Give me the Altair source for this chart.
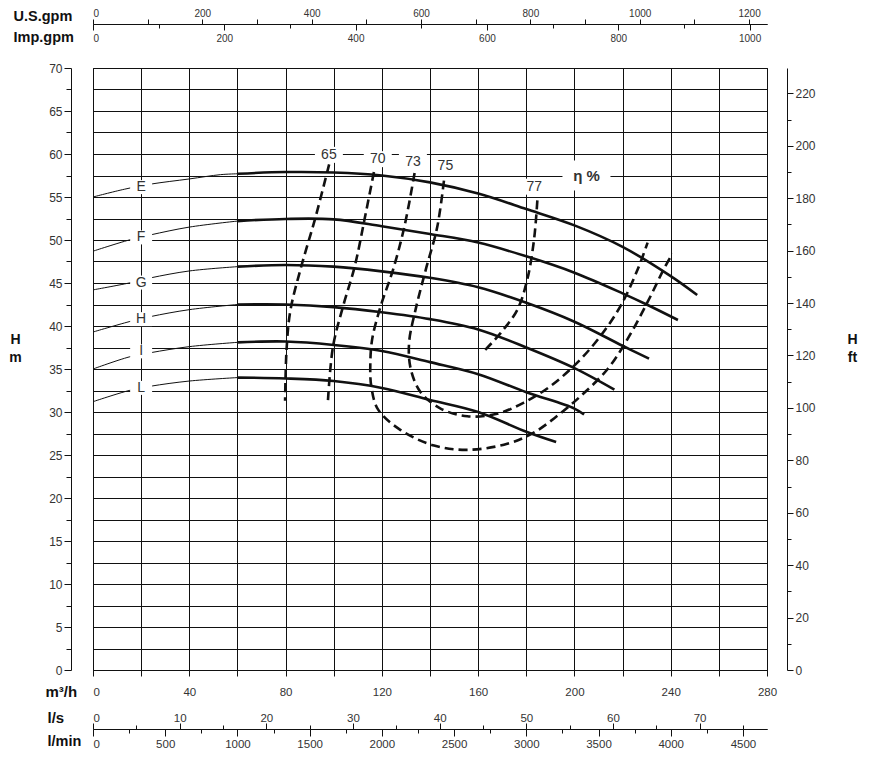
import altair as alt
import pandas as pd

# ---------------- unit conversions ----------------
Q_MAX = 280.0          # m3/h at right edge of plot
H_MAX = 70.0           # m at top of plot
USGPM_PER_M3H = 4.402868
IMPGPM_PER_M3H = 3.666154
LS_PER_M3H = 1 / 3.6
LMIN_PER_M3H = 1000 / 60
FT_PER_M = 3.28084

# ---------------- pump head curves (Q m3/h, H m) ----------------
curve_names = ["E", "F", "G", "H", "I", "L"]
E_q = [0, 13, 24, 40, 53, 60, 80, 100, 120, 140, 160, 180, 200, 220, 240, 251]
E_h = [55.0, 55.9, 56.5, 57.1, 57.6, 57.7, 57.9, 57.85, 57.5, 56.7, 55.4, 53.6, 51.7, 49.2, 45.8, 43.6]
F_q = [0, 15, 24, 40, 60, 80, 100, 120, 140, 160, 180, 200, 220, 230, 243]
F_h = [48.7, 50.0, 50.6, 51.5, 52.2, 52.45, 52.4, 51.6, 50.7, 49.7, 48.1, 46.2, 43.8, 42.5, 40.7]
G_q = [0, 15, 24, 40, 60, 80, 100, 120, 140, 160, 180, 200, 220, 231]
G_h = [44.2, 45.0, 45.6, 46.4, 46.9, 47.1, 46.9, 46.35, 45.6, 44.5, 42.7, 40.5, 37.7, 36.2]
H_q = [0, 15, 24, 40, 60, 80, 100, 120, 140, 160, 180, 200, 216.6]
H_h = [39.3, 40.5, 41.1, 41.9, 42.5, 42.5, 42.2, 41.6, 40.8, 39.6, 37.5, 35.1, 32.6]
I_q = [0, 15, 24, 40, 60, 80, 100, 120, 140, 160, 180, 200, 204]
I_h = [35.0, 36.4, 36.9, 37.6, 38.1, 38.2, 37.8, 37.1, 35.8, 34.4, 32.3, 30.4, 29.7]
L_q = [0, 15, 24, 40, 60, 80, 100, 120, 140, 160, 180, 192.4]
L_h = [31.2, 32.5, 33.0, 33.6, 34.0, 33.9, 33.6, 32.8, 31.4, 30.0, 27.7, 26.5]
THIN_LIMIT = 60  # curves drawn thin below this flow

# curve labels
label_q = [20, 20, 20, 20, 20, 20]
label_h = [56.15, 50.3, 45.05, 40.8, 37.05, 32.8]

# ---------------- efficiency iso-lines ----------------
eff_names = ["65", "70", "73", "75", "77"]
e65_q = [98.1, 92.2, 86.7, 82.0, 80.4, 79.8]
e65_h = [58.8, 52.4, 47.1, 41.8, 37.2, 31.3]
e70_q = [116.7, 112.8, 108.7, 103.9, 99.7, 97.6]
e70_h = [57.9, 52.4, 46.9, 42.3, 37.6, 31.3]
e73_q = [133.6, 129.4, 124.6, 119.5, 116.0, 115.2, 115.6, 118.4, 127.8, 141.7, 155.5, 172.1,
         183.1, 193.1, 202.8, 213.8, 222.1, 230.4, 237.3, 240.7]
e73_h = [57.8, 51.6, 46.5, 42.3, 38.5, 35.5, 33.0, 30.3, 27.9, 26.1, 25.6, 26.3,
         27.6, 29.6, 31.9, 35.0, 38.5, 42.8, 46.7, 48.4]
e75_q = [145.8, 143.0, 138.2, 134.0, 131.3, 132.0, 136.1, 144.4, 155.5, 167.9, 179.0, 190.0,
         201.4, 211.0, 219.3, 226.3, 230.4]
e75_h = [56.9, 51.5, 46.5, 41.9, 38.0, 35.0, 32.3, 30.4, 29.5, 29.8, 31.1, 33.0,
         35.8, 38.9, 42.4, 46.6, 49.7]
e77_q = [184.6, 183.2, 180.4, 176.3, 169.4, 162.5]
e77_h = [54.6, 50.0, 45.4, 41.9, 39.2, 37.1]

eff_label_q = [98.0, 118.3, 132.9, 146.4, 183.3]
eff_label_h = [59.9, 59.4, 59.1, 58.6, 56.2]
eta_label = ["η %"]
eta_q = [205.0]
eta_h = [57.5]

# ---------------- axis tick values ----------------
m3h_ticks = list(range(0, 281, 20))
m_ticks = [i * 2.5 for i in range(0, 29)]
ft_ticks = list(range(0, 221, 10))
us_ticks = list(range(0, 1201, 100))
imp_ticks = list(range(0, 1001, 100))
ls_ticks = list(range(0, 76, 5))
lmin_ticks = list(range(0, 4501, 250))

# ---------------- tables ----------------
curves = {"E": (E_q, E_h), "F": (F_q, F_h), "G": (G_q, G_h),
          "H": (H_q, H_h), "I": (I_q, I_h), "L": (L_q, L_h)}
pump = pd.DataFrame([{"curve": n, "Q": q, "H": h, "i": i}
                     for n, (qs, hs) in curves.items()
                     for i, (q, h) in enumerate(zip(qs, hs))])
effs = {"65": (e65_q, e65_h), "70": (e70_q, e70_h), "73": (e73_q, e73_h),
        "75": (e75_q, e75_h), "77": (e77_q, e77_h)}
eff = pd.DataFrame([{"eff": n, "Q": q, "H": h, "i": i}
                    for n, (qs, hs) in effs.items()
                    for i, (q, h) in enumerate(zip(qs, hs))])
curve_labels = pd.DataFrame({"t": curve_names, "Q": label_q, "H": label_h})
eff_labels = pd.DataFrame({"t": eff_names, "Q": eff_label_q, "H": eff_label_h})
eta = pd.DataFrame({"t": eta_label, "Q": eta_q, "H": eta_h})

# ---------------- styling ----------------
FONT = "Liberation Sans, Arial, sans-serif"
INK = "#111111"
LBL = "#333333"


def xs():
    return alt.Scale(domain=[0, Q_MAX], nice=False, zero=False)


def ys():
    return alt.Scale(domain=[0, H_MAX], nice=False, zero=False)


def zero_left():
    return {"condition": {"test": "datum.value === 0", "value": "left"}, "value": "center"}


ax_m3h = alt.Axis(orient="bottom", offset=0, values=m3h_ticks, format="d",
                  labelExpr="datum.value % 40 === 0 ? datum.label : ''",
                  labelAlign=zero_left(), labelFlush=False, labelFontSize=11.5,
                  tickSize=6, labelPadding=10, grid=True, gridColor=INK, gridWidth=1,
                  title="m³/h", titleX=-48, titleY=21, titleAlign="left",
                  titleBaseline="middle", titleAngle=0)
ax_m = alt.Axis(orient="left", offset=22, values=m_ticks, format="d",
                labelExpr="datum.value % 5 === 0 ? datum.label : ''",
                tickSize={"condition": {"test": "datum.value % 5 === 0", "value": 7}, "value": 5},
                labelPadding=2, labelFontSize=12, grid=True, gridColor=INK, gridWidth=1,
                title=["H", "m"], titleX=-56, titleY=271, titleAngle=0,
                titleAlign="center", titleBaseline="middle", titleFontSize=14, titleLineHeight=18)

thin = alt.Chart(pump).transform_filter(f"datum.Q <= {THIN_LIMIT}").mark_line(
    color=INK, strokeWidth=1, interpolate="catmull-rom").encode(
    x=alt.X("Q:Q", scale=xs(), axis=ax_m3h),
    y=alt.Y("H:Q", scale=ys(), axis=ax_m),
    detail="curve:N", order="i:Q")

thick = alt.Chart(pump).transform_filter(f"datum.Q >= {THIN_LIMIT}").mark_line(
    color=INK, strokeWidth=2.6, interpolate="catmull-rom").encode(
    x=alt.X("Q:Q", scale=xs(), axis=None),
    y=alt.Y("H:Q", scale=ys(), axis=None),
    detail="curve:N", order="i:Q")

eff_lines = alt.Chart(eff).mark_line(
    color=INK, strokeWidth=2.6, strokeDash=[9, 5], interpolate="catmull-rom").encode(
    x=alt.X("Q:Q", scale=xs(), axis=None),
    y=alt.Y("H:Q", scale=ys(), axis=None),
    detail="eff:N", order="i:Q")


def box(df, path, size):
    return alt.Chart(df).mark_point(shape=path, size=size, filled=True, color="white",
                                    opacity=1, strokeWidth=0).encode(
        x=alt.X("Q:Q", scale=xs(), axis=None),
        y=alt.Y("H:Q", scale=ys(), axis=None))


def txt(df, size, weight="normal"):
    return alt.Chart(df).mark_text(font=FONT, fontSize=size, fontWeight=weight, color=LBL,
                                   align="center", baseline="middle").encode(
        x=alt.X("Q:Q", scale=xs(), axis=None),
        y=alt.Y("H:Q", scale=ys(), axis=None),
        text="t:N")


curve_box = box(curve_labels, "M-1.57,-1H1.57V1H-1.57Z", 196)
eff_box = box(eff_labels, "M-1.75,-1H1.75V1H-1.75Z", 256)
eta_box = box(eta, "M-1.6,-1H1.6V1H-1.6Z", 900)
curve_txt = txt(curve_labels, 14)
eff_txt = txt(eff_labels, 14)
eta_txt = txt(eta, 15, "bold")


# ---------------- secondary axes ----------------
def xaxis_layer(ticks, dmax, axis):
    return alt.Chart(pd.DataFrame({"v": ticks})).mark_point(opacity=0).encode(
        x=alt.X("v:Q", scale=alt.Scale(domain=[0, dmax], nice=False, zero=False), axis=axis))


us_axis = xaxis_layer(us_ticks, Q_MAX * USGPM_PER_M3H, alt.Axis(
    orient="top", offset=44, values=us_ticks, format="d",
    labelExpr="datum.value % 200 === 0 ? datum.label : ''",
    labelAlign=zero_left(), labelFlush=False, labelFontSize=10,
    tickSize=5, labelPadding=1, grid=False,
    title="U.S.gpm", titleX=-80, titleY=-7.5, titleAlign="left",
    titleBaseline="middle", titleAngle=0, titleFontSize=14.5))

imp_axis = xaxis_layer(imp_ticks, Q_MAX * IMPGPM_PER_M3H, alt.Axis(
    orient="bottom", offset=-646, values=imp_ticks, format="d",
    labelExpr="datum.value % 200 === 0 ? datum.label : ''",
    labelAlign=zero_left(), labelFlush=False, labelFontSize=10,
    tickSize={"condition": {"test": "datum.value % 200 === 0", "value": 6}, "value": 4},
    labelPadding=3, grid=False,
    title="Imp.gpm", titleX=-80, titleY=13, titleAlign="left",
    titleBaseline="middle", titleAngle=0, titleFontSize=14.5))

ls_axis = xaxis_layer(ls_ticks, Q_MAX * LS_PER_M3H, alt.Axis(
    orient="top", offset=-661, values=ls_ticks, format="d",
    labelExpr="datum.value % 10 === 0 ? datum.label : ''",
    labelAlign=zero_left(), labelFlush=False, labelFontSize=11.5,
    tickSize={"condition": {"test": "datum.value % 10 === 0", "value": 6}, "value": 4},
    labelPadding=0, grid=False,
    title="l/s", titleX=-46, titleY=-12, titleAlign="left",
    titleBaseline="middle", titleAngle=0))

lmin_axis = xaxis_layer(lmin_ticks, Q_MAX * LMIN_PER_M3H, alt.Axis(
    orient="bottom", offset=59, values=lmin_ticks, format="d",
    labelExpr="datum.value % 500 === 0 ? datum.label : ''",
    labelAlign=zero_left(), labelFlush=False, labelFontSize=11.5,
    tickSize={"condition": {"test": "datum.value % 500 === 0", "value": 7}, "value": 4},
    labelPadding=2, grid=False,
    title="l/min", titleX=-46, titleY=12.5, titleAlign="left",
    titleBaseline="middle", titleAngle=0, titleFontSize=14.5))

ft_axis = alt.Chart(pd.DataFrame({"v": ft_ticks})).mark_point(opacity=0).encode(
    y=alt.Y("v:Q", scale=alt.Scale(domain=[0, H_MAX * FT_PER_M], nice=False, zero=False),
            axis=alt.Axis(orient="right", offset=20, values=ft_ticks, format="d",
                          labelExpr="datum.value % 20 === 0 ? datum.label : ''",
                          tickSize={"condition": {"test": "datum.value % 20 === 0", "value": 6},
                                    "value": 4},
                          labelPadding=2, labelFontSize=12, grid=False,
                          title=["H", "ft"], titleX=65, titleY=271, titleAngle=0,
                          titleAlign="center", titleBaseline="middle", titleFontSize=14,
                          titleLineHeight=18)))

chart = alt.layer(
    thin, thick, eff_lines, curve_box, eff_box, eta_box, curve_txt, eff_txt, eta_txt,
    us_axis, imp_axis, ls_axis, lmin_axis, ft_axis
).resolve_scale(x="independent", y="independent").properties(
    width=674, height=602,
    padding={"left": 85, "top": 60, "right": 100, "bottom": 79},
    autosize=alt.AutoSizeParams(type="none"),
    background="white",
).configure_view(stroke=INK, strokeWidth=1).configure_axis(
    domainColor=INK, domainWidth=1, tickColor=INK, tickWidth=1,
    labelColor=LBL, labelFont=FONT, titleFont=FONT, titleColor=INK,
    titleFontSize=15, titleFontWeight="bold",
)

chart.save("out.html", embed_options={"renderer": "svg", "actions": False})
